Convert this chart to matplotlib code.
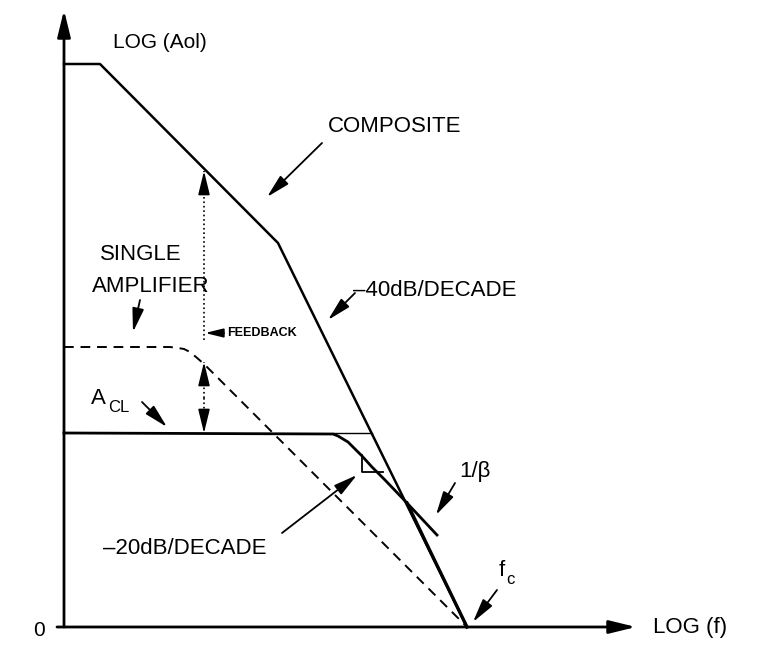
import matplotlib.pyplot as plt

plt.rcParams['font.family'] = ['Liberation Sans', 'DejaVu Sans']

# =============================================================================
# DATA (pixel units, y grows downward)
# =============================================================================
# composite open-loop gain: flat, -20dB/dec, then -40dB/dec
composite_x = [64, 100, 278, 467]
composite_y = [64, 64, 243, 627]

# single amplifier (dashed), rounded corner then -20dB/dec
single_x = [64, 170, 178, 184, 190, 196, 204, 215, 467]
single_y = [347, 347, 348, 349, 352, 357, 364, 375, 627]

# closed-loop gain A_CL / 1/beta curve
acl_x = [64, 333, 338, 343, 348, 354, 362, 372, 385, 407, 437]
acl_y = [433, 434, 436, 439, 442, 448, 456, 467, 480, 503, 535]

# thin extension of A_CL level up to composite curve
acl_ext_x = [333, 372]
acl_ext_y = [433, 433]

# closed-loop response riding down the composite to fc
cl_x = [407, 420, 433, 450, 467]
cl_y = [503, 530, 557, 592, 627]

# slope marker (right angle)
mark_x = [362, 362, 383]
mark_y = [455, 472, 472]

FEEDBACK_X = 204

# =============================================================================
# PLOT
# =============================================================================
fig = plt.figure(figsize=(7.65, 6.59), dpi=100)
ax = fig.add_axes([0, 0, 1, 1])
ax.set_xlim(0, 765)
ax.set_ylim(659, 0)
ax.axis('off')

HEAD = '-|>,head_length=0.9,head_width=0.22'


def arrow(x0, y0, x1, y1, lw=1.3, ms=16):
    ax.annotate('', xy=(x1, y1), xytext=(x0, y0),
                arrowprops=dict(arrowstyle=HEAD, lw=lw, color='black',
                                shrinkA=0, shrinkB=0, mutation_scale=ms))


def dotted_arrow(x, y0, y1):
    # dotted shaft, solid head at y1
    ax.plot([x, x], [y0, y1], color='black', lw=1.2, linestyle=':')
    step = 14 if y1 > y0 else -14
    arrow(x, y1 - step, x, y1, lw=1.2, ms=16)


# axes
arrow(64, 627, 64, 10, lw=2.0, ms=18)
arrow(57, 627, 636, 627, lw=2.0, ms=18)

# curves
ax.plot(composite_x, composite_y, color='black', lw=1.8)
ax.plot(single_x, single_y, color='black', lw=1.4, linestyle=(0, (5, 3.5)))
ax.plot(acl_x, acl_y, color='black', lw=2.0)
ax.plot(acl_ext_x, acl_ext_y, color='black', lw=1.0)
ax.plot(cl_x, cl_y, color='black', lw=2.4)
ax.plot(mark_x, mark_y, color='black', lw=1.3)

# feedback indicators (dotted)
dotted_arrow(FEEDBACK_X, 340, 171)
dotted_arrow(FEEDBACK_X, 398, 362)
dotted_arrow(FEEDBACK_X, 398, 433)

# label arrows
arrow(322, 143, 267, 197)
arrow(140, 300, 133, 332)
arrow(224, 333, 205, 333, ms=12)
arrow(355, 293, 328, 320)
arrow(142, 402, 167, 427)
arrow(455, 483, 436, 515)
arrow(282, 533, 357, 475)
arrow(497, 590, 473, 622)

# texts
ax.text(113, 43, 'LOG (Aol)', fontsize=15, va='center', ha='left')
ax.text(328, 126, 'COMPOSITE', fontsize=16, va='center', ha='left')
ax.text(141, 255, 'SINGLE', fontsize=16, va='center', ha='center')
ax.text(151, 286, 'AMPLIFIER', fontsize=16, va='center', ha='center')
ax.text(227, 333, 'FEEDBACK', fontsize=9, fontweight='bold',
        va='center', ha='left')
ax.text(353, 291, '\u201340dB/DECADE', fontsize=16, va='center', ha='left')
ax.text(91, 399, 'A', fontsize=16, va='center', ha='left')
ax.text(108, 408, 'CL', fontsize=12, va='center', ha='left')
ax.text(459, 471, '1/\u03b2', fontsize=16, va='center', ha='left')
ax.text(103, 548, '\u201320dB/DECADE', fontsize=16, va='center', ha='left')
ax.text(499, 570, 'f', fontsize=16, va='center', ha='left')
ax.text(506, 579, 'c', fontsize=12, va='center', ha='left')
ax.text(33, 631, '0', fontsize=15, va='center', ha='left')
ax.text(653, 628, 'LOG (f)', fontsize=16, va='center', ha='left')

fig.savefig('out.png', dpi=100)
